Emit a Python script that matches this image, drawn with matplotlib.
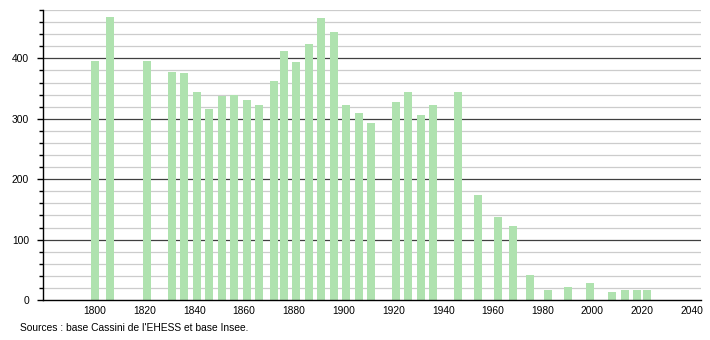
import matplotlib
matplotlib.use("Agg")
import matplotlib.pyplot as plt
from matplotlib.ticker import MultipleLocator

years = [1800, 1806, 1821, 1831, 1836, 1841, 1846, 1851, 1856, 1861, 1866,
         1872, 1876, 1881, 1886, 1891, 1896, 1901, 1906, 1911, 1921, 1926,
         1931, 1936, 1946, 1954, 1962, 1968, 1975, 1982, 1990, 1999, 2008,
         2013, 2018, 2022]
population = [395, 468, 396, 378, 376, 345, 316, 338, 340, 331, 322,
              362, 412, 394, 423, 467, 443, 322, 310, 293, 328, 344,
              306, 322, 344, 173, 137, 123, 41, 16, 22, 28, 14,
              16, 16, 16]
x_ticks = [1800, 1820, 1840, 1860, 1880, 1900, 1920, 1940, 1960, 1980, 2000, 2020, 2040]
y_ticks = [0, 100, 200, 300, 400]
source_text = "Sources : base Cassini de l'EHESS et base Insee."

plt.rcParams['font.family'] = ['Liberation Sans', 'DejaVu Sans']

fig = plt.figure(figsize=(7.1, 3.4), dpi=100)
ax = fig.add_axes([43/710, 1 - 300/340, (701 - 43)/710, (300 - 10)/340])

ax.set_xlim(1779.2, 2043.6)
ax.set_ylim(0, 480)

# grid
for v in range(20, 481, 20):
    if v % 100 == 0:
        ax.axhline(v, color='#404040', lw=0.9, zorder=1)
    else:
        ax.axhline(v, color='#cccccc', lw=0.9, zorder=1)

ax.bar(years, population, width=3.2, color='#afe2af', zorder=2)

for s in ['top', 'right']:
    ax.spines[s].set_visible(False)
ax.spines['left'].set_color('black')
ax.spines['bottom'].set_color('black')
ax.spines['left'].set_linewidth(1.0)
ax.spines['bottom'].set_linewidth(1.0)

ax.set_yticks(y_ticks)
ax.set_yticklabels([str(v) for v in y_ticks], fontsize=7.4)
ax.yaxis.set_minor_locator(MultipleLocator(20))
ax.tick_params(axis='y', which='major', length=4, width=1, pad=6, colors='black')
ax.tick_params(axis='y', which='minor', length=3, width=1, colors='black')

ax.set_xticks(x_ticks)
ax.set_xticklabels([str(v) for v in x_ticks], fontsize=7.4)
ax.tick_params(axis='x', which='major', length=0, pad=4)

fig.text(20/710, 1 - 328/340, source_text, fontsize=7.4, va='center', ha='left')

fig.savefig('out.png', dpi=100)
